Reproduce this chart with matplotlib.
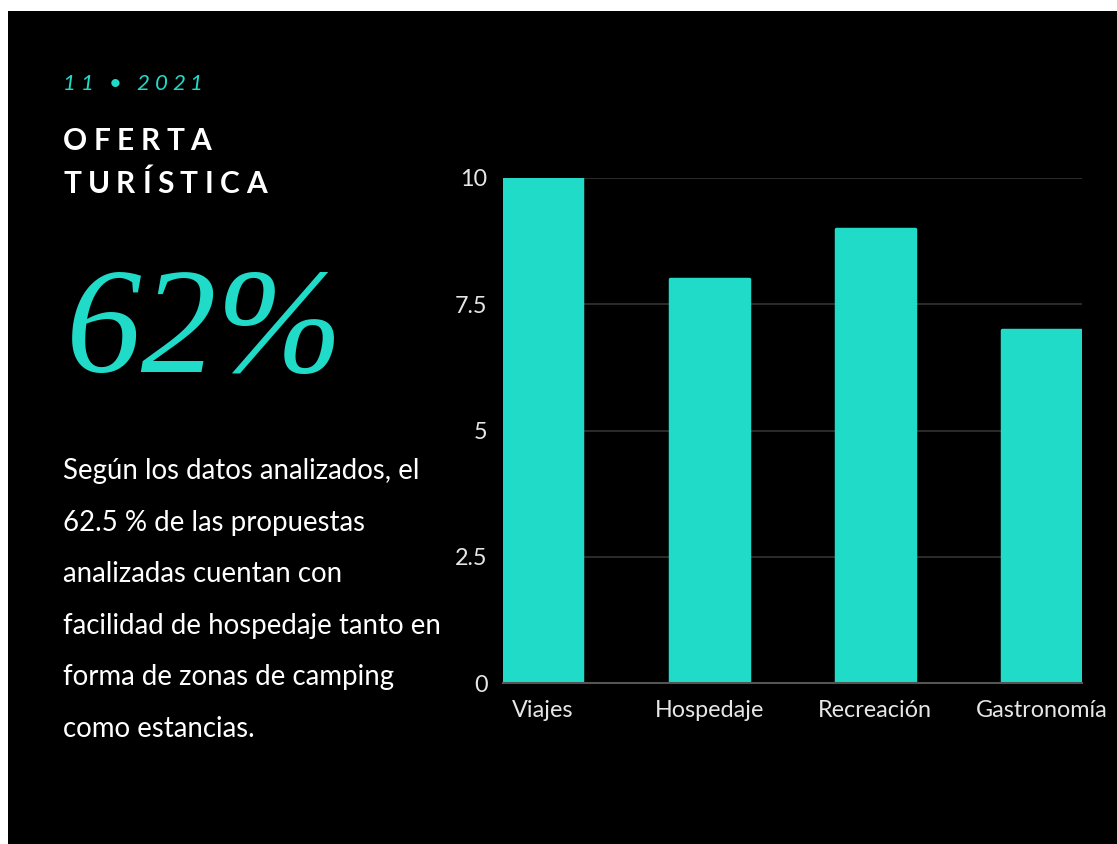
import numpy as np
import matplotlib.pyplot as plt
from matplotlib.patches import Rectangle

# ==============================
# Datos
# ==============================
categorias = ['Viajes', 'Hospedaje', 'Recreación', 'Gastronomía']
valores = [10, 8, 9, 7]
y_ticks = [0, 2.5, 5, 7.5, 10]
y_tick_labels = ['0', '2.5', '5', '7.5', '10']

fecha = '11 • 2021'
titulo = ['OFERTA', 'TURÍSTICA']
cifra = '62%'
parrafo = [
    'Según los datos analizados, el',
    '62.5 % de las propuestas',
    'analizadas cuentan con',
    'facilidad de hospedaje tanto en',
    'forma de zonas de camping',
    'como estancias.',
]

TEAL = '#21dbc9'
W, H = 1117, 844

fig = plt.figure(figsize=(W / 100, H / 100), dpi=100, facecolor='white')
# fondo negro con borde blanco arriba/izquierda
fig.patches.append(Rectangle((8 / W, 0), 1 - 8 / W, 1 - 11 / H,
                             transform=fig.transFigure, facecolor='black',
                             edgecolor='none', zorder=-10))

renderer = fig.canvas.get_renderer()


def texto_espaciado(x_px, y_px, s, espacio, **kw):
    # dibuja el texto letra por letra con espaciado extra (en pixeles)
    x = x_px
    for ch in s:
        t = fig.text(x / W, 1 - y_px / H, ch, va='center', ha='left', **kw)
        ancho = t.get_window_extent(renderer).width
        if ch == ' ':
            ancho = kw.get('fontsize', 12) * 0.35
        x += ancho + espacio


# ==============================
# Textos de la izquierda
# ==============================
texto_espaciado(63, 84, fecha, 4.8, color=TEAL, fontsize=16,
                family='Lato', style='italic')
texto_espaciado(63, 141, titulo[0], 6.5, color='white', fontsize=21.5,
                family='Lato', weight='bold')
texto_espaciado(63, 184, titulo[1], 6.5, color='white', fontsize=21.5,
                family='Lato', weight='bold')

fig.text(66 / W, 1 - 336 / H, cifra, color=TEAL, fontsize=109,
         family='Liberation Serif', style='italic', va='center', ha='left')

for i, linea in enumerate(parrafo):
    fig.text(63 / W, 1 - (471 + i * 51.6) / H, linea, color='white',
             fontsize=19.9, family='Lato', va='center', ha='left')

# ==============================
# Gráfico de barras
# ==============================
ax = fig.add_axes([503 / W, 1 - 683 / H, (1081.5 - 503) / W, (683 - 178) / H])
ax.set_facecolor('none')
x = np.arange(len(categorias))
ax.bar(x, valores, width=0.476, color=TEAL, edgecolor=TEAL, linewidth=2.5,
       joinstyle='round', zorder=3)
ax.set_xlim(-0.24, len(categorias) - 1 + 0.24)
ax.set_ylim(0, 10)
ax.set_yticks(y_ticks)
ax.set_yticklabels(y_tick_labels)
ax.set_xticks(x)
ax.set_xticklabels(categorias)
ax.grid(axis='y', color='#333333', linewidth=1.2, zorder=0)
for s in ['top', 'right', 'left']:
    ax.spines[s].set_visible(False)
ax.spines['bottom'].set_color('#555555')
ax.spines['bottom'].set_linewidth(1.5)
ax.spines['bottom'].set_zorder(4)
ax.tick_params(axis='both', length=0, colors='#e6e6e6', labelsize=16.8)
ax.tick_params(axis='y', pad=11)
ax.tick_params(axis='x', pad=12)
for lab in ax.get_xticklabels() + ax.get_yticklabels():
    lab.set_family('Lato')

plt.savefig('out.png', dpi=100, facecolor=fig.get_facecolor())
